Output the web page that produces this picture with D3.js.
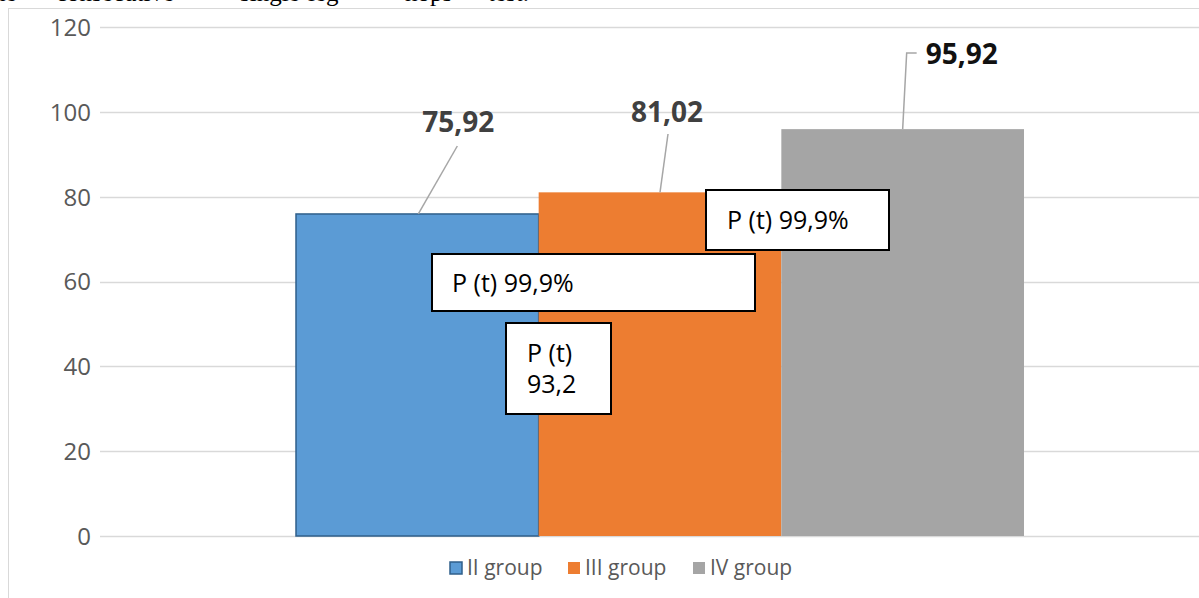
<!DOCTYPE html>
<html>
<head>
<meta charset="utf-8">
<script src="https://cdn.jsdelivr.net/npm/d3@7"></script>
<style>
  html, body { margin: 0; padding: 0; background: #fff; }
  svg { display: block; }
</style>
</head>
<body>
<svg id="chart" width="1199" height="598"></svg>
<script>
// ---- data ----
const series = ["II group", "III group", "IV group"];
const values = [75.92, 81.02, 95.92];
const valueLabels = ["75,92", "81,02", "95,92"];
const yTicks = [0, 20, 40, 60, 80, 100, 120];
const noteTexts = [["P (t) 99,9%"], ["P (t) 99,9%"], ["P (t)", "93,2"]];
const topWords = ["the", "consecutive", "single-leg", "hops", "test."];

// ---- styles ----
const colors = ["#5b9bd5", "#ed7d31", "#a5a5a5"];
const font = "'Open Sans', 'Noto Sans', sans-serif";

const svg = d3.select("#chart");

// cropped document text at top
const topX = [-14, 56, 240, 405, 488];
svg.append("g").selectAll("text").data(topWords).join("text")
  .attr("x", (d, i) => topX[i]).attr("y", 1)
  .attr("font-family", "'Liberation Serif', 'Times New Roman', serif")
  .attr("font-size", 25).attr("fill", "#000").text(d => d);

// chart frame
svg.append("rect").attr("x", 8.5).attr("y", 8.5).attr("width", 1300).attr("height", 700)
  .attr("fill", "none").attr("stroke", "#d9d9d9").attr("stroke-width", 1);

const plotL = 100, plotR = 1220;
const y = d3.scaleLinear().domain([0, 120]).range([536, 27]);
const groupW = 728;
const cx = (plotL + plotR) / 2;
const x = d3.scaleBand().domain(series).range([cx - groupW / 2, cx + groupW / 2]).padding(0);

// gridlines
svg.append("g").selectAll("line").data(yTicks).join("line")
  .attr("x1", plotL).attr("x2", 1199)
  .attr("y1", d => Math.round(y(d)) + 0.5).attr("y2", d => Math.round(y(d)) + 0.5)
  .attr("stroke", "#d9d9d9").attr("stroke-width", 1.5);

// y axis labels
const yAxis = d3.axisLeft(y).tickValues(yTicks).tickSize(0).tickPadding(0).tickFormat(d3.format("d"));
const ga = svg.append("g").attr("transform", "translate(91,0)").call(yAxis);
ga.select(".domain").remove();
ga.selectAll("text").attr("font-family", font).attr("font-size", 24).attr("fill", "#595959").attr("dy", "0.35em");

// bars
svg.append("g").selectAll("rect").data(series).join("rect")
  .attr("x", d => x(d)).attr("width", x.bandwidth())
  .attr("y", (d, i) => y(values[i])).attr("height", (d, i) => y(0) - y(values[i]))
  .attr("fill", (d, i) => colors[i])
  .attr("stroke", (d, i) => i === 0 ? "#2f5f8a" : "none")
  .attr("stroke-width", 1.5);

// leader lines + value labels (offsets relative to bar centre)
const lblOff = [
  {dx: 41, ly: 122, pts: [[40, 146], [1, null]]},
  {dx: 7, ly: 112, pts: [[8, 134], [0, null]]},
  {dx: 59, ly: 54, pts: [[14, 53], [4, 53], [0, null]]}
];
const lg = svg.append("g");
series.forEach((s, i) => {
  const bx = x(s) + x.bandwidth() / 2;
  const top = y(values[i]);
  const o = lblOff[i];
  const line = d3.line();
  const pts = o.pts.map(p => [bx + p[0], p[1] === null ? top : p[1]]);
  lg.append("path").attr("d", line(pts)).attr("fill", "none").attr("stroke", "#a6a6a6").attr("stroke-width", 1.5);
  lg.append("text").attr("x", bx + o.dx).attr("y", o.ly).attr("dy", "0.35em")
    .attr("text-anchor", "middle").attr("font-family", font).attr("font-weight", "bold")
    .attr("font-size", 28).attr("fill", i === 2 ? "#111" : "#404040").text(valueLabels[i]);
});

// annotation boxes
const boxes = [
  {x0: 432, y0: 254, x1: 755, y1: 311, tx: 452, ty: [292]},
  {x0: 706, y0: 190, x1: 889, y1: 250, tx: 727, ty: [229]},
  {x0: 506, y0: 323, x1: 611, y1: 414, tx: 527, ty: [362, 393]}
];
const bg = svg.append("g");
boxes.forEach((b, i) => {
  bg.append("rect").attr("x", b.x0).attr("y", b.y0).attr("width", b.x1 - b.x0).attr("height", b.y1 - b.y0)
    .attr("fill", "#fff").attr("stroke", "#000").attr("stroke-width", 2);
  noteTexts[i].forEach((t, j) => {
    bg.append("text").attr("x", b.tx).attr("y", b.ty[j])
      .attr("font-family", font).attr("font-size", 25).attr("fill", "#000").text(t);
  });
});

// legend
const legX = [450, 568, 693];
const leg = svg.append("g");
series.forEach((s, i) => {
  leg.append("rect").attr("x", legX[i]).attr("y", 562).attr("width", 12).attr("height", 12)
    .attr("fill", colors[i]).attr("stroke", i === 0 ? "#2f5f8a" : "none").attr("stroke-width", 1.5);
  leg.append("text").attr("x", legX[i] + 17).attr("y", 568).attr("dy", "0.35em")
    .attr("font-family", font).attr("font-size", 21).attr("fill", "#595959").text(s);
});
</script>
</body>
</html>
